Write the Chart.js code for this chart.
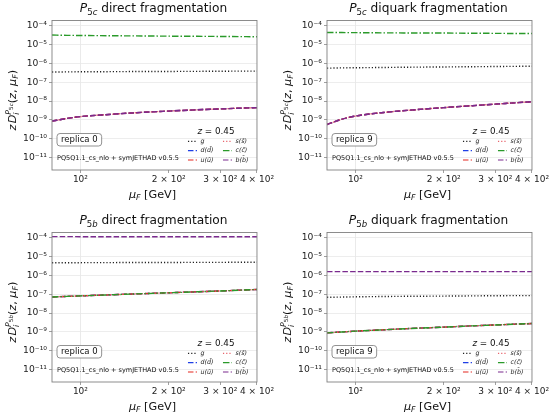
<!DOCTYPE html>
<html>
<head>
<meta charset="utf-8">
<script src="https://cdn.jsdelivr.net/npm/chart.js@4.4.0/dist/chart.umd.min.js"></script>
<style>
  body { margin: 0; background: #fff; width: 550px; height: 415px; overflow: hidden; position: relative; }
  .cell { position: absolute; width: 275px; height: 207px; }
</style>
</head>
<body>
<div class="cell" style="left:0;top:0"><canvas id="c0"></canvas></div>
<div class="cell" style="left:275px;top:0"><canvas id="c1"></canvas></div>
<div class="cell" style="left:0;top:212px"><canvas id="c2"></canvas></div>
<div class="cell" style="left:275px;top:212px"><canvas id="c3"></canvas></div>
<script>
// mu_F grid [GeV]
const muF = [80, 90, 100, 125, 150, 200, 250, 300, 350, 400]

const xTicks = [100, 200, 300, 400]
const xTickLabels = ['10²', '2 × 10²', '3 × 10²', '4 × 10²']
const yTicks = [1e-11, 1e-10, 1e-9, 1e-8, 1e-7, 1e-6, 1e-5, 1e-4]

const legendLabels = ['g', 'd(d̄)', 'u(ū)', 's(s̄)', 'c(c̄)', 'b(b̄)']

// P5c direct, replica 0 (d, u, s, b coincide)
const p5cDirGluon = [3.5e-7, 3.55e-7, 3.6e-7, 3.65e-7, 3.7e-7, 3.75e-7, 3.8e-7, 3.85e-7, 3.9e-7, 3.9e-7]
const p5cDirCharm = [3.2e-5, 3.1e-5, 3.05e-5, 2.95e-5, 2.9e-5, 2.8e-5, 2.75e-5, 2.7e-5, 2.65e-5, 2.6e-5]
const p5cDirLight = [8.7e-10, 1.2e-9, 1.5e-9, 1.95e-9, 2.35e-9, 2.95e-9, 3.45e-9, 3.85e-9, 4.2e-9, 4.5e-9]

// P5c diquark, replica 9
const p5cDqGluon = [5.6e-7, 5.8e-7, 5.9e-7, 6.1e-7, 6.3e-7, 6.5e-7, 6.7e-7, 6.85e-7, 7.0e-7, 7.1e-7]
const p5cDqCharm = [4.4e-5, 4.35e-5, 4.3e-5, 4.2e-5, 4.15e-5, 4.1e-5, 4.0e-5, 3.95e-5, 3.9e-5, 3.9e-5]
const p5cDqLight = [5.7e-10, 1.1e-9, 1.6e-9, 2.5e-9, 3.2e-9, 4.5e-9, 5.7e-9, 6.9e-9, 8.1e-9, 9.3e-9]

// P5b direct, replica 0 (d, u, s, c coincide)
const p5bDirGluon = [4.7e-6, 4.72e-6, 4.75e-6, 4.8e-6, 4.83e-6, 4.88e-6, 4.92e-6, 4.95e-6, 4.98e-6, 5.0e-6]
const p5bDirBottom = [1.15e-4, 1.15e-4, 1.14e-4, 1.14e-4, 1.13e-4, 1.13e-4, 1.12e-4, 1.12e-4, 1.12e-4, 1.12e-4]
const p5bDirLight = [7.2e-8, 7.7e-8, 8.2e-8, 9.3e-8, 1.03e-7, 1.2e-7, 1.35e-7, 1.5e-7, 1.65e-7, 1.8e-7]

// P5b diquark, replica 9
const p5bDqGluon = [6.9e-8, 7.1e-8, 7.3e-8, 7.6e-8, 7.8e-8, 8.0e-8, 8.2e-8, 8.35e-8, 8.45e-8, 8.5e-8]
const p5bDqBottom = [1.6e-6, 1.6e-6, 1.6e-6, 1.6e-6, 1.6e-6, 1.6e-6, 1.6e-6, 1.6e-6, 1.6e-6, 1.6e-6]
const p5bDqLight = [8.9e-10, 1.0e-9, 1.1e-9, 1.3e-9, 1.5e-9, 1.8e-9, 2.1e-9, 2.35e-9, 2.6e-9, 2.8e-9]

const FONT = '"DejaVu Sans"'

const styles = [
  { color: '#222222', dash: [1.2, 2] },
  { color: '#1f3fe6', dash: [5.5, 2.2] },
  { color: '#e3261f', dash: [5.5, 2.2] },
  { color: '#e8636b', dash: [1.2, 2] },
  { color: '#2a9a2a', dash: [6.5, 2, 1.5, 2] },
  { color: '#7a2a8e', dash: [5.5, 2.2] }
]

const panels = [
  { id: 'c0', hadron: 'P', sub: '5', subIt: 'c', kind: 'direct', replica: 'replica 0',
    series: [p5cDirGluon, p5cDirLight, p5cDirLight, p5cDirLight, p5cDirCharm, p5cDirLight] },
  { id: 'c1', hadron: 'P', sub: '5', subIt: 'c', kind: 'diquark', replica: 'replica 9',
    series: [p5cDqGluon, p5cDqLight, p5cDqLight, p5cDqLight, p5cDqCharm, p5cDqLight] },
  { id: 'c2', hadron: 'P', sub: '5', subIt: 'b', kind: 'direct', replica: 'replica 0',
    series: [p5bDirGluon, p5bDirLight, p5bDirLight, p5bDirLight, p5bDirLight, p5bDirBottom] },
  { id: 'c3', hadron: 'P', sub: '5', subIt: 'b', kind: 'diquark', replica: 'replica 9',
    series: [p5bDqGluon, p5bDqLight, p5bDqLight, p5bDqLight, p5bDqLight, p5bDqBottom] }
]

const sup = { '-': '⁻', '0': '⁰', '1': '¹', '2': '²', '3': '³', '4': '⁴', '5': '⁵', '6': '⁶', '7': '⁷', '8': '⁸', '9': '⁹' }
const powLabel = (v) => '10' + String(Math.round(Math.log10(v))).split('').map(c => sup[c]).join('')

// parts: [text, italic, scale, shift(up, in em), noAdvance]
function drawRich (ctx, parts, size, x, y, rot) {
  ctx.save()
  ctx.translate(x, y)
  if (rot) ctx.rotate(rot)
  ctx.fillStyle = '#111'
  ctx.textBaseline = 'alphabetic'
  ctx.textAlign = 'left'
  const fonts = parts.map(p => (p[1] ? 'italic ' : '') + (size * p[2]).toFixed(2) + 'px ' + FONT)
  let w = 0
  parts.forEach((p, i) => {
    ctx.font = fonts[i]
    if (!p[4]) w += ctx.measureText(p[0]).width
  })
  let cx = -w / 2
  parts.forEach((p, i) => {
    ctx.font = fonts[i]
    ctx.fillText(p[0], cx, size * 0.36 - p[3] * size)
    if (!p[4]) cx += ctx.measureText(p[0]).width
  })
  ctx.restore()
}

const decorPlugin = {
  id: 'decor',
  afterDatasetsDraw (chart, args, opts) {
    const { ctx, chartArea: ca } = chart
    const p = opts.panel
    ctx.save()
    // frame
    ctx.strokeStyle = '#808080'
    ctx.lineWidth = 0.9
    ctx.setLineDash([])
    ctx.strokeRect(ca.left, ca.top, ca.right - ca.left, ca.bottom - ca.top)

    // title
    drawRich(ctx, [
      [p.hadron, true, 1, 0], [p.sub, false, 0.7, -0.18], [p.subIt, true, 0.7, -0.18],
      [' ' + p.kind + ' fragmentation', false, 1, 0]
    ], 12.2, (ca.left + ca.right) / 2 - 1, 8)

    // axis titles
    drawRich(ctx, [['μ', true, 1, 0], ['F', true, 0.7, -0.2], [' [GeV]', false, 1, 0]],
      11.2, (ca.left + ca.right) / 2 - 2, 194)
    drawRich(ctx, [
      ['z', true, 1, 0], [' ', false, 0.4, 0], ['D', true, 1, 0],
      ['i', true, 0.7, -0.25, true], [p.hadron, true, 0.7, 0.42],
      [p.sub, false, 0.5, 0.3], [p.subIt, true, 0.5, 0.3],
      ['(', false, 1, 0], ['z', true, 1, 0], [', ', false, 1, 0],
      ['μ', true, 1, 0], ['F', true, 0.7, -0.2], [')', false, 1, 0]
    ], 11.2, 12, (ca.top + ca.bottom) / 2 + 5, -Math.PI / 2)

    // replica box
    ctx.font = '8.5px ' + FONT
    ctx.textBaseline = 'middle'
    ctx.textAlign = 'left'
    const bx = ca.left + 5
    const by = ca.bottom - 36.5
    const tw = ctx.measureText(p.replica).width
    ctx.beginPath()
    ctx.roundRect(bx, by, tw + 8, 12.5, 3)
    ctx.fillStyle = '#fff'
    ctx.fill()
    ctx.strokeStyle = '#777'
    ctx.lineWidth = 0.8
    ctx.stroke()
    ctx.fillStyle = '#111'
    ctx.fillText(p.replica, bx + 4, by + 6.7)

    ctx.font = '6.5px ' + FONT
    ctx.fillText('PQ5Q1.1_cs_nlo + symJETHAD v0.5.5', ca.left + 5, ca.bottom - 11.5)

    // z label
    drawRich(ctx, [['z', true, 1, 0], [' = 0.45', false, 1, 0]], 8.8, ca.right - 41, ca.bottom - 39)

    // legend
    const rows = [ca.bottom - 28.6, ca.bottom - 19.3, ca.bottom - 10]
    chart.data.datasets.forEach((ds, i) => {
      const col = i < 3 ? 0 : 1
      const row = i % 3
      const x0 = col === 0 ? ca.right - 69 : ca.right - 34
      const y = rows[row]
      ctx.beginPath()
      ctx.setLineDash(ds.borderDash)
      ctx.strokeStyle = ds.borderColor
      ctx.lineWidth = 1.2
      ctx.moveTo(x0, y)
      ctx.lineTo(x0 + 9, y)
      ctx.stroke()
      ctx.setLineDash([])
      ctx.font = 'italic 6.3px ' + FONT
      ctx.fillStyle = '#222'
      ctx.textBaseline = 'middle'
      ctx.fillText(ds.label, x0 + 12.5, y)
    })
    ctx.restore()
  }
}

panels.forEach((p) => {
  const datasets = p.series.map((vals, i) => ({
    label: legendLabels[i],
    data: muF.map((m, k) => ({ x: m, y: vals[k] })),
    borderColor: styles[i].color,
    borderDash: styles[i].dash,
    borderWidth: 1.4,
    pointRadius: 0,
    fill: false,
    cubicInterpolationMode: 'monotone',
    order: 5 - i
  }))

  new Chart(document.getElementById(p.id), {
    type: 'line',
    data: { datasets },
    options: {
      responsive: true,
      maintainAspectRatio: false,
      animation: false,
      events: [],
      layout: { padding: { left: 0, top: 20.5, right: 13, bottom: 0 } },
      plugins: {
        legend: { display: false },
        tooltip: { enabled: false },
        decor: { panel: p }
      },
      scales: {
        x: {
          type: 'logarithmic',
          min: 80,
          max: 400,
          afterBuildTicks: (scale) => { scale.ticks = xTicks.map(v => ({ value: v })) },
          afterFit: (scale) => { scale.height = 37 },
          ticks: {
            autoSkip: false,
            maxRotation: 0,
            padding: 1,
            color: '#222',
            font: { family: 'DejaVu Sans', size: 9 },
            callback: (v, i) => xTickLabels[i]
          },
          grid: {
            color: (c) => (c.tick && c.tick.value === 100 ? '#e4e4e4' : 'rgba(0,0,0,0)'),
            tickColor: '#888',
            tickLength: 3,
            lineWidth: 0.8
          },
          border: { display: false }
        },
        y: {
          type: 'logarithmic',
          min: 2.2e-12,
          max: 1.9e-4,
          afterBuildTicks: (scale) => { scale.ticks = yTicks.map(v => ({ value: v })) },
          afterFit: (scale) => { scale.width = 52 },
          ticks: {
            autoSkip: false,
            padding: 2,
            color: '#222',
            font: { family: 'DejaVu Sans', size: 9.2 },
            callback: (v) => powLabel(v)
          },
          grid: { color: '#e8e8e8', tickColor: '#888', tickLength: 3, lineWidth: 0.8 },
          border: { display: false }
        }
      }
    },
    plugins: [decorPlugin]
  })
})
</script>
</body>
</html>
